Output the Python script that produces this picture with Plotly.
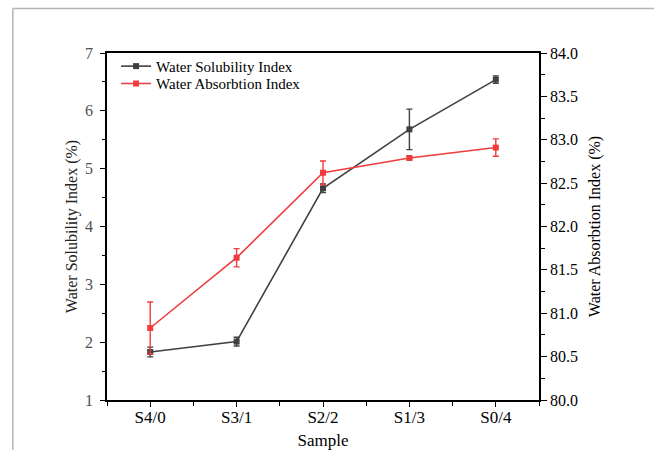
import plotly.graph_objects as go

categories = ["S4/0", "S3/1", "S2/2", "S1/3", "S0/4"]
wsi = [1.83, 2.01, 4.66, 5.68, 6.54]
wsi_err = [0.085, 0.075, 0.075, 0.35, 0.065]
wai = [80.83, 81.64, 82.62, 82.79, 82.91]
wai_err = [0.30, 0.105, 0.135, 0.02, 0.10]

xpos = list(range(len(categories)))
GRAY = "#404040"
RED = "#f03c3c"
FONT = "Liberation Serif"

fig = go.Figure()
fig.add_trace(go.Scatter(
    x=xpos, y=wsi, name="Water Solubility Index", mode="lines+markers",
    line=dict(color=GRAY, width=1.6),
    marker=dict(symbol="square", size=6, color=GRAY),
    error_y=dict(type="data", array=wsi_err, color=GRAY, thickness=1.4, width=3),
    yaxis="y", legend="legend"))
fig.add_trace(go.Scatter(
    x=xpos, y=wai, name="Water Absorbtion Index", mode="lines+markers",
    line=dict(color=RED, width=1.6),
    marker=dict(symbol="square", size=6, color=RED),
    error_y=dict(type="data", array=wai_err, color=RED, thickness=1.4, width=3),
    yaxis="y2", legend="legend2"))

leg_common = dict(xanchor="left", yanchor="top", bgcolor="rgba(0,0,0,0)",
                  font=dict(size=15, family=FONT, color="black"), itemwidth=30)

fig.update_layout(
    width=654, height=450,
    margin=dict(l=107, r=115, t=53, b=50),
    paper_bgcolor="white", plot_bgcolor="white",
    font=dict(family=FONT, color="black", size=16),
    showlegend=True,
    legend=dict(x=0.021, y=1.009, **leg_common),
    legend2=dict(x=0.021, y=0.959, **leg_common),
    xaxis=dict(
        range=[-0.5, 4.5], tickvals=xpos, ticktext=categories, automargin=False,
        showline=True, linecolor="black", linewidth=1.5, mirror=True,
        ticks="outside", ticklen=5, tickwidth=1.3, tickcolor="black",
        minor=dict(ticks="outside", dtick=0.5, ticklen=4, tickwidth=1.3, tickcolor="black", tick0=-0.5),
        showgrid=False, zeroline=False, ticklabelstandoff=-4,
        title=dict(text="Sample", font=dict(size=17), standoff=11),
        tickfont=dict(size=17)),
    yaxis=dict(
        range=[1, 7], dtick=1, showline=True, linecolor="black", linewidth=1.5, automargin=False,
        ticks="outside", ticklen=5, tickwidth=1.3, tickcolor="black",
        minor=dict(ticks="outside", dtick=0.5, ticklen=3, tickwidth=1.3, tickcolor="black"),
        showgrid=False, zeroline=False, ticklabelstandoff=4,
        tickfont=dict(size=16, color="#505050"),
        title=dict(text="Water Solubility Index (%)", font=dict(size=16, color="#222"), standoff=3)),
    yaxis2=dict(
        range=[80, 84], dtick=0.5, tickformat=".1f", overlaying="y", side="right", automargin=False,
        showline=True, linecolor="black", linewidth=1.5,
        ticks="outside", ticklen=6, tickwidth=1.3, tickcolor="black",
        minor=dict(ticks="outside", dtick=0.25, ticklen=4, tickwidth=1.3, tickcolor="black"),
        showgrid=False, zeroline=False,
        tickfont=dict(size=16),
        title=dict(text="Water Absorbtion Index (%)", font=dict(size=16), standoff=12)),
    shapes=[
        dict(type="line", xref="paper", yref="paper", x0=-0.218, x1=1.3, y0=1.128, y1=1.128,
             line=dict(color="#b4b4b4", width=1.5)),
        dict(type="line", xref="paper", yref="paper", x0=-0.218, x1=-0.218, y0=1.128, y1=-0.2,
             line=dict(color="#b4b4b4", width=1.5)),
    ],
)

fig.write_html("out.html")
